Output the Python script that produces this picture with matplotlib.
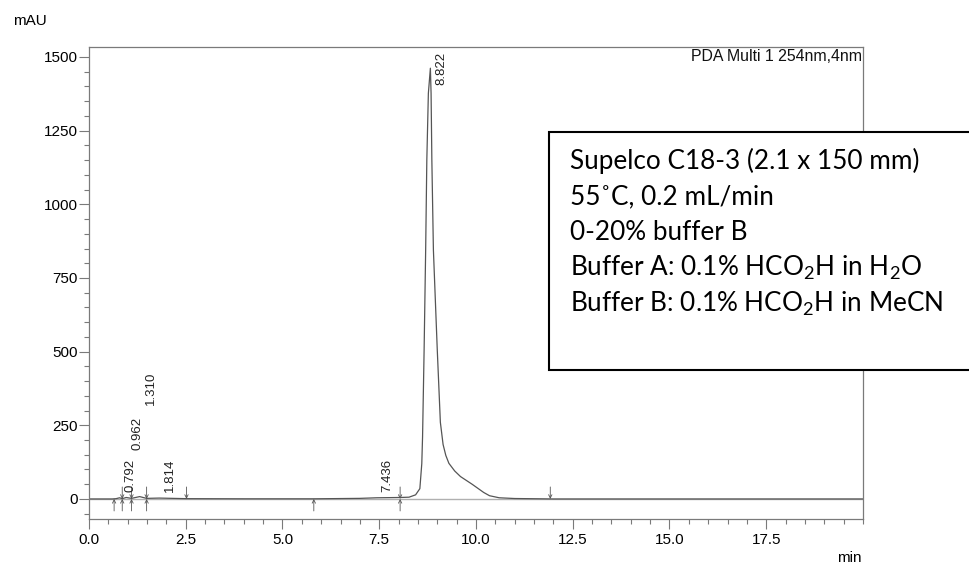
import matplotlib
matplotlib.use('Agg')
import matplotlib.pyplot as plt
from matplotlib.patches import Rectangle
from matplotlib.ticker import MultipleLocator, FormatStrFormatter

plt.rcParams['font.family'] = ['Liberation Sans', 'DejaVu Sans']

# chromatogram trace (min, mAU)
time_min = [0.0, 0.60, 0.70, 0.792, 0.86, 0.962, 1.10, 1.31, 1.49, 1.814, 2.52,
            4.00, 5.80, 7.00, 7.436, 8.04, 8.27, 8.44, 8.55, 8.60, 8.62, 8.66,
            8.70, 8.73, 8.77, 8.822, 8.84, 8.86, 8.90, 9.00, 9.08, 9.15, 9.22,
            9.30, 9.45, 9.60, 9.75, 9.90, 10.05, 10.20, 10.35, 10.60, 11.00, 12.00, 20.0]
absorb = [0, 0, 1, 4, 1, 5, 2, 8, 2, 3, 1,
          0.5, 0.5, 2, 4, 5, 6, 14, 35, 120, 211, 506,
          845, 1150, 1377, 1462, 1377, 1150, 845, 506, 260, 185, 148,
          121, 95, 76, 63, 50, 36, 22, 11, 4, 1.5, 0, 0]

# peak labels: retention time and label height (mAU)
peak_rt = [0.792, 0.962, 1.310, 1.814, 7.436, 8.822]
label_y = [24, 166, 319, 24, 24, 1405]

# integration marks
start_marks = [0.65, 0.86, 1.10, 1.49, 5.81, 8.04]
end_marks = [0.86, 1.10, 1.49, 2.52, 8.04, 11.92]

info_lines = [
    'Supelco C18-3 (2.1 x 150 mm)',
    '55\u02daC, 0.2 mL/min',
    '0-20% buffer B',
    'Buffer A: 0.1% HCO$_\\mathregular{2}$H in H$_\\mathregular{2}$O',
    'Buffer B: 0.1% HCO$_\\mathregular{2}$H in MeCN',
]

fig = plt.figure(figsize=(9.69, 5.64), dpi=100)
ax = fig.add_axes([0.0918, 0.0798, 0.7988, 0.8369])

grey = '#7a7a7a'
ax.axhline(0, color='#b0b0b0', lw=1.0, zorder=1)
ax.plot(time_min, absorb, color='#555555', lw=0.9, zorder=2)

ax.set_xlim(0, 20)
ax.set_ylim(-68, 1534)
ax.xaxis.set_major_locator(MultipleLocator(2.5))
ax.xaxis.set_minor_locator(MultipleLocator(0.5))
ax.yaxis.set_major_locator(MultipleLocator(250))
ax.yaxis.set_minor_locator(MultipleLocator(50))
ax.xaxis.set_major_formatter(FormatStrFormatter('%.1f'))
ax.set_xticks([0, 2.5, 5, 7.5, 10, 12.5, 15, 17.5])
ax.tick_params(which='major', length=7, width=0.8, color=grey, labelsize=11, direction='out')
ax.tick_params(which='minor', length=3.5, width=0.8, color=grey, direction='out')
ax.tick_params(axis='y', pad=1)
ax.tick_params(axis='x', pad=3)
for s in ax.spines.values():
    s.set_color(grey)
    s.set_linewidth(0.9)

for t in start_marks:
    ax.annotate('', xy=(t, 0), xytext=(0, -12), textcoords='offset pixels',
                arrowprops=dict(arrowstyle='->', lw=0.6, color='#555555',
                                shrinkA=0, shrinkB=0, mutation_scale=6))
for t in end_marks:
    ax.annotate('', xy=(t, 0), xytext=(0, 12), textcoords='offset pixels',
                arrowprops=dict(arrowstyle='->', lw=0.6, color='#555555',
                                shrinkA=0, shrinkB=0, mutation_scale=6))

for rt, y in zip(peak_rt, label_y):
    ax.annotate(f'{rt:.3f}', xy=(rt, y), xytext=(11, 0), textcoords='offset pixels',
                rotation=90, ha='center', va='bottom', fontsize=9.5, color='#222222')

ax.text(0.999, 0.979, 'PDA Multi 1 254nm,4nm', transform=ax.transAxes,
        ha='right', va='center', fontsize=11.4, color='#111111')
fig.text(13 / 969, 1 - 21 / 564, 'mAU', ha='left', va='center', fontsize=11)
fig.text(862 / 969, 1 - 558 / 564, 'min', ha='right', va='center', fontsize=11)

# condition box
box = Rectangle((549 / 969, 1 - 370 / 564), 0.5, 238 / 564, transform=fig.transFigure,
                facecolor='white', edgecolor='black', lw=1.5, zorder=5)
fig.patches.append(box)
for i, line in enumerate(info_lines):
    fig.text(570 / 969, 1 - (169 + 35.5 * i) / 564, line, ha='left', va='baseline',
             fontsize=18.8, family=['Lato', 'DejaVu Sans'], zorder=6)

fig.savefig('out.png', dpi=100)
